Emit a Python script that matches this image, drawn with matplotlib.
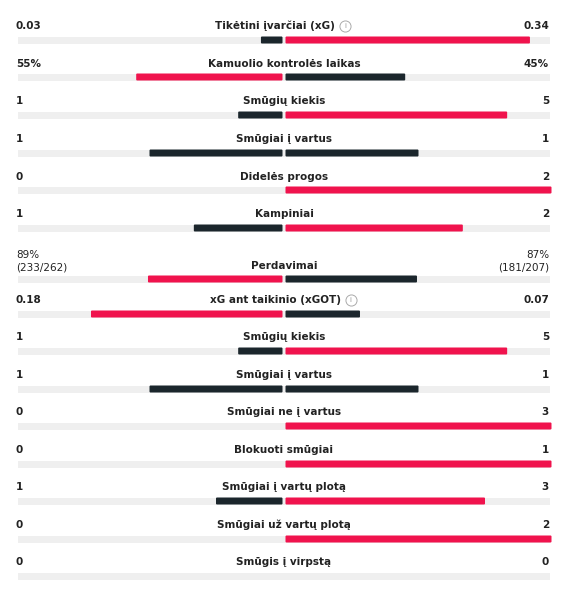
import numpy as np
import matplotlib.pyplot as plt
from matplotlib.patches import FancyBboxPatch

labels = ["Tikėtini įvarčiai (xG)", "Kamuolio kontrolės laikas", "Smūgių kiekis",
          "Smūgiai į vartus", "Didelės progos", "Kampiniai", "Perdavimai",
          "xG ant taikinio (xGOT)", "Smūgių kiekis", "Smūgiai į vartus",
          "Smūgiai ne į vartus", "Blokuoti smūgiai", "Smūgiai į vartų plotą",
          "Smūgiai už vartų plotą", "Smūgis į virpstą"]
left_vals = [0.03, 55, 1, 1, 0, 1, 89, 0.18, 1, 1, 0, 0, 1, 0, 0]
right_vals = [0.34, 45, 5, 1, 2, 2, 87, 0.07, 5, 1, 3, 1, 3, 2, 0]
left_text = ["0.03", "55%", "1", "1", "0", "1", "89%\n(233/262)", "0.18", "1", "1", "0", "0", "1", "0", "0"]
right_text = ["0.34", "45%", "5", "1", "2", "2", "87%\n(181/207)", "0.07", "5", "1", "3", "1", "3", "2", "0"]
info_rows = [0, 7]

label_y = [26, 64, 101, 139, 177, 214, 266, 300, 337, 375, 412, 450, 487, 525, 562]
bar_y = [40, 77, 115, 153, 190, 228, 279, 314, 351, 389, 426, 464, 501, 539, 576]

RED = "#f0134d"
DARK = "#1b262c"
TRACK = "#efefef"
TXT = "#222222"

fig = plt.figure(figsize=(5.65, 5.9), dpi=100)
ax = fig.add_axes([0, 0, 1, 1])
ax.set_xlim(0, 565)
ax.set_ylim(590, 0)
ax.axis("off")
renderer = fig.canvas.get_renderer()

x0, x1, xc = 18, 550, 284
half = xc - x0
bh = 7

def rbar(x, w, y, c):
    if w <= 0:
        return
    ax.add_patch(FancyBboxPatch((x, y - bh / 2), w, bh, boxstyle="round,pad=0,rounding_size=1",
                                fc=c, ec="none"))

for i, lab in enumerate(labels):
    l, r = left_vals[i], right_vals[i]
    tot = l + r
    ax.add_patch(plt.Rectangle((x0, bar_y[i] - bh / 2), x1 - x0, bh, fc=TRACK, ec="none"))
    if tot > 0:
        lw, rw = l / tot * half, r / tot * half
        lc = RED if l > r else DARK
        rc = RED if r > l else DARK
        rbar(xc - 1.5 - lw, lw, bar_y[i], lc)
        rbar(xc + 1.5, rw, bar_y[i], rc)
    fs = 7.5
    if i in info_rows:
        t = ax.text(xc - 9, label_y[i], lab, ha="center", va="center", fontsize=fs, color=TXT, fontweight="semibold")
        bb = t.get_window_extent(renderer)
        xe = ax.transData.inverted().transform((bb.x1, 0))[0]
        ax.plot(xe + 10, label_y[i], "o", ms=8, mfc="white", mec="#aaaaaa", mew=0.7)
        ax.text(xe + 10, label_y[i] + 0.5, "i", ha="center", va="center", fontsize=5, color="#999999")
    else:
        ax.text(xc, label_y[i], lab, ha="center", va="center", fontsize=fs, color=TXT, fontweight="semibold")
    if i == 6:
        ax.text(16, label_y[i] - 5, left_text[i], ha="left", va="center", fontsize=fs, color=TXT, linespacing=1.3)
        ax.text(549, label_y[i] - 5, right_text[i], ha="right", va="center", fontsize=fs, color=TXT, linespacing=1.3)
    else:
        ax.text(16, label_y[i], left_text[i], ha="left", va="center", fontsize=fs, color=TXT, fontweight="semibold")
        ax.text(549, label_y[i], right_text[i], ha="right", va="center", fontsize=fs, color=TXT, fontweight="semibold")

fig.savefig("out.png", dpi=100)
